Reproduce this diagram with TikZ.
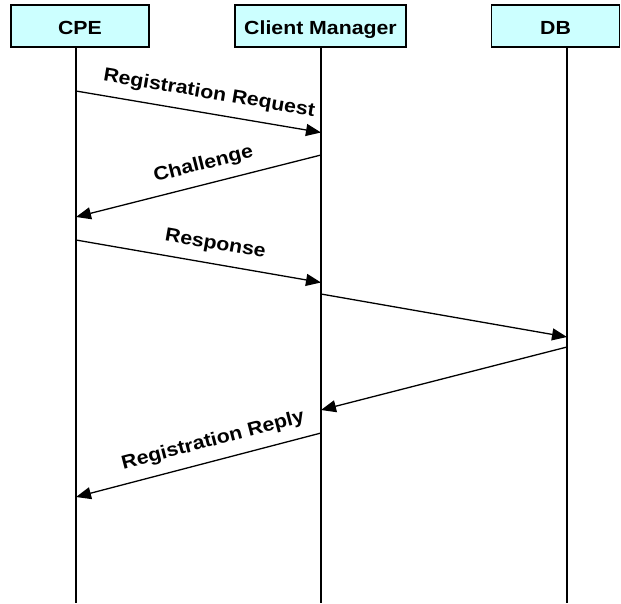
\documentclass[tikz,border=0pt]{standalone}
\usepackage{fontspec}
\usetikzlibrary{arrows.meta}
\newfontfamily\diagfont[FakeStretch=1.12]{Liberation Sans}
\definecolor{headfill}{HTML}{CCFFFF}
\begin{document}
\begin{tikzpicture}[x=1pt,y=-1pt,
  actor/.style={draw=black, line width=1.8pt, fill=headfill, minimum height=42pt,
    inner sep=0pt},
  actortext/.style={anchor=base, inner sep=0pt,
    font=\diagfont\bfseries\fontsize{19}{21}\selectfont},
  lifeline/.style={draw=black, line width=1.2pt},
  msg/.style={draw=black, line width=1.3pt, -{Triangle[length=15pt,width=12pt]}},
  lbl/.style={font=\diagfont\bfseries\fontsize{19}{21}\selectfont, sloped, inner sep=0pt}]
  \useasboundingbox (0,0) rectangle (621,603);

  % participant heads
  \node[actor, minimum width=138pt] (cpe) at (80,26) {};
  \node[actor, minimum width=171pt] (cm) at (320.5,26) {};
  \node[actor, minimum width=128pt] (db) at (555.5,26) {};
  \node[actortext] (cpeL) at (80,34.5) {CPE};
  \node[actortext] (cmL) at (320.5,34.5) {Client Manager};
  \node[actortext] (dbL) at (555.5,34.5) {DB};

  % lifelines
  \coordinate (cpeT) at (76,47);   \coordinate (cpeB) at (76,603);
  \coordinate (cmT)  at (321,47);  \coordinate (cmB)  at (321,603);
  \coordinate (dbT)  at (567,47);  \coordinate (dbB)  at (567,603);
  \draw[lifeline] (cpeT) -- (cpeB);
  \draw[lifeline] (cmT) -- (cmB);
  \draw[lifeline] (dbT) -- (dbB);

  % message end points on the lifelines
  \coordinate (m1s) at (76,91);   \coordinate (m1e) at (321,132.5);
  \coordinate (m2s) at (321,155); \coordinate (m2e) at (76,217);
  \coordinate (m3s) at (76,240);  \coordinate (m3e) at (321,282.5);
  \coordinate (m4s) at (321,294); \coordinate (m4e) at (567,337);
  \coordinate (m5s) at (567,347); \coordinate (m5e) at (321,410);
  \coordinate (m6s) at (321,433); \coordinate (m6e) at (76,497);

  % messages
  \draw[msg] (m1s) -- node[lbl, pos=0.53, above=10pt] {Registration Request} (m1e);
  \draw[msg] (m2s) -- node[lbl, pos=0.46, above=10pt] {Challenge} (m2e);
  \draw[msg] (m3s) -- node[lbl, pos=0.555, above=10pt] {Response} (m3e);
  \draw[msg] (m4s) -- (m4e);
  \draw[msg] (m5s) -- (m5e);
  \draw[msg] (m6s) -- node[lbl, pos=0.42, above=10pt] {Registration Reply} (m6e);
\end{tikzpicture}
\end{document}
